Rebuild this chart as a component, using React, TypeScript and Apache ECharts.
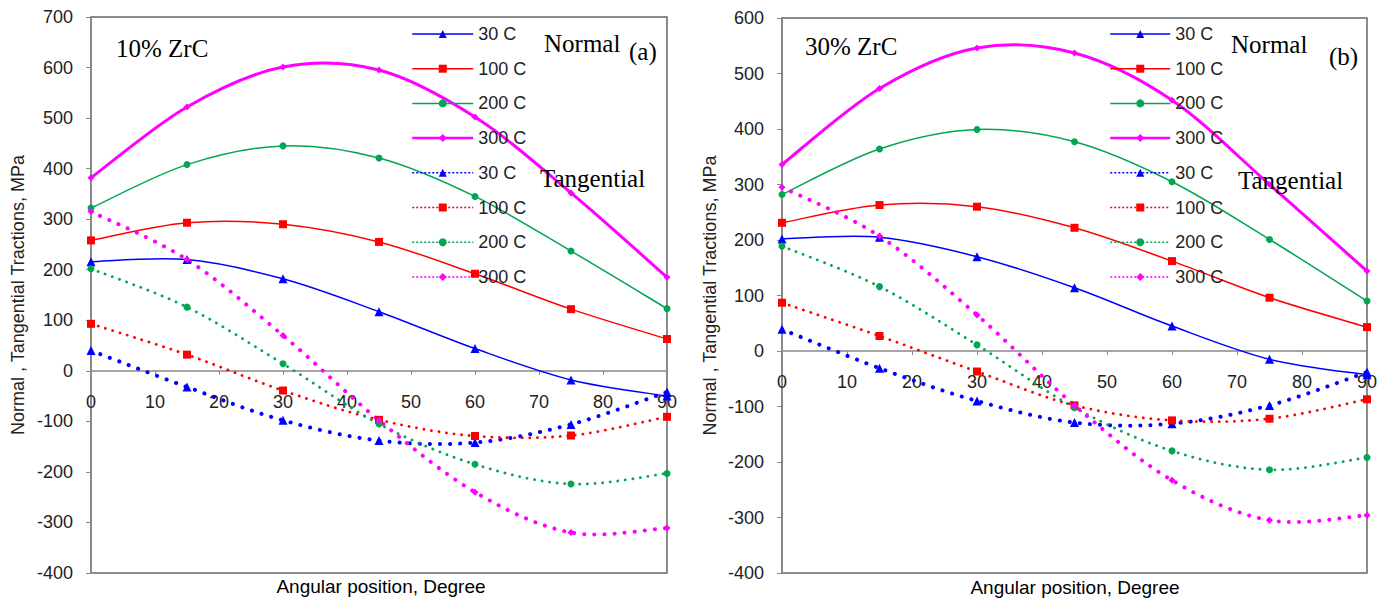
import React, { useEffect, useRef } from 'react';
import * as echarts from 'echarts';

// Angular positions (degrees)
const angles = [0, 15, 30, 45, 60, 75, 90];
const temps = ['30 C', '100 C', '200 C', '300 C'];
const xTicksMin = 0;
const xTicksMax = 90;

// (a) 10% ZrC
const aNormal30 = [216, 220, 182, 117, 44, -18, -50];
const aNormal100 = [258, 293, 290, 255, 192, 122, 63];
const aNormal200 = [322, 408, 445, 421, 345, 237, 123];
const aNormal300 = [382, 522, 601, 595, 502, 352, 185];
const aTang30 = [40, -32, -98, -138, -142, -106, -42];
const aTang100 = [93, 32, -39, -97, -129, -128, -91];
const aTang200 = [202, 126, 14, -105, -185, -224, -203];
const aTang300 = [315, 220, 70, -98, -240, -320, -311];

// (b) 30% ZrC
const bNormal30 = [202, 205, 170, 114, 45, -15, -43];
const bNormal100 = [231, 263, 260, 222, 162, 96, 43];
const bNormal200 = [282, 364, 399, 377, 305, 201, 90];
const bNormal300 = [336, 473, 546, 537, 452, 300, 144];
const bTang30 = [39, -31, -90, -129, -131, -98, -38];
const bTang100 = [87, 27, -37, -98, -125, -122, -87];
const bTang200 = [189, 116, 11, -102, -180, -214, -192];
const bTang300 = [295, 207, 65, -98, -233, -305, -296];

const aYRange = [-400, 700];
const bYRange = [-400, 600];

const colors = ['#0000FF', '#FF0000', '#00A651', '#FF00FF'];
const symbols = ['triangle', 'rect', 'circle', 'diamond'];
const symbolSizes = [9, 8, 7, 7];

const SANS = 'Liberation Sans, Arial, sans-serif';
const SERIF = 'Liberation Serif, Times New Roman, serif';

const GRIDS = [
  { left: 91, top: 17, width: 576, height: 556 },
  { left: 782, top: 18, width: 585, height: 555 },
];

function lineLook(kind: string, idx: number) {
  const thick = idx === 0 || idx === 3;
  if (kind === 'Normal') return { width: idx === 3 ? 3 : 1.5, dash: null as any, cap: 'butt' };
  return { width: thick ? 4 : 2.8, dash: [0.1, thick ? 10 : 7.5], cap: 'round' };
}

// Marker series (the library's line series, line hidden; curve drawn by curveSeries)
function markerSeries(p: number, panel: string, kind: string, idx: number, values: number[]) {
  const color = colors[idx];
  return {
    name: `${panel} ${kind}|${temps[idx]}`,
    type: 'line',
    xAxisIndex: p,
    yAxisIndex: p,
    data: angles.map((a, i) => [a, values[i]]),
    symbol: symbols[idx],
    symbolSize: symbolSizes[idx],
    showSymbol: true,
    itemStyle: { color },
    lineStyle: { color, width: 0, opacity: 0 },
    z: 4,
  };
}

// Smoothed curve through the data points (Excel-like cardinal spline)
function curveSeries(p: number, kind: string, idx: number, values: number[]) {
  const color = colors[idx];
  const look = lineLook(kind, idx);
  return {
    type: 'custom',
    xAxisIndex: p,
    yAxisIndex: p,
    data: angles.map((a, i) => [a, values[i]]),
    clip: true,
    silent: true,
    z: kind === 'Normal' ? 2 : 3,
    renderItem: (params: any, api: any) => {
      if (params.dataIndex !== 0) return null;
      const pts = angles.map((a, i) => api.coord([a, values[i]]));
      const n = pts.length;
      let d = `M${pts[0][0]},${pts[0][1]}`;
      for (let i = 0; i < n - 1; i++) {
        const p0 = pts[Math.max(i - 1, 0)];
        const p1 = pts[i];
        const p2 = pts[i + 1];
        const p3 = pts[Math.min(i + 2, n - 1)];
        const c1x = p1[0] + (p2[0] - p0[0]) / 6;
        const c1y = p1[1] + (p2[1] - p0[1]) / 6;
        const c2x = p2[0] - (p3[0] - p1[0]) / 6;
        const c2y = p2[1] - (p3[1] - p1[1]) / 6;
        d += ` C${c1x},${c1y} ${c2x},${c2y} ${p2[0]},${p2[1]}`;
      }
      return {
        type: 'path',
        shape: { pathData: d },
        style: {
          fill: 'none',
          stroke: color,
          lineWidth: look.width,
          lineDash: look.dash,
          lineCap: look.cap,
          lineJoin: 'round',
        },
      };
    },
  };
}

function legendFor(panel: string, left: number, width: number) {
  const data: any[] = [];
  ['Normal', 'Tangential'].forEach((kind) => {
    temps.forEach((t, idx) => {
      data.push({
        name: `${panel} ${kind}|${t}`,
        lineStyle:
          kind === 'Normal'
            ? { color: colors[idx], width: idx === 3 ? 2.5 : 1.5, type: 'solid', opacity: 1 }
            : { color: colors[idx], width: 1.5, type: [2, 2], cap: 'butt', opacity: 1 },
      });
    });
  });
  return {
    left,
    top: 25,
    orient: 'vertical',
    padding: 0,
    itemWidth: width,
    itemHeight: 10,
    itemGap: 16.7,
    selectedMode: false,
    data,
    formatter: (n: string) => n.split('|')[1],
    textStyle: { fontFamily: SANS, fontSize: 18, color: '#222', lineHeight: 18 },
  };
}

function xAxisFor(p: number, range: number[]) {
  const zeroOffset = -((0 - range[0]) / (range[1] - range[0])) * GRIDS[p].height;
  return {
    type: 'value',
    gridIndex: p,
    position: 'bottom',
    offset: zeroOffset,
    min: xTicksMin,
    max: xTicksMax,
    interval: 10,
    axisLine: { onZero: false, lineStyle: { color: '#888', width: 1.5 } },
    axisTick: { show: true, inside: false, length: 4, lineStyle: { color: '#888' } },
    axisLabel: { margin: 22, fontFamily: SANS, fontSize: 18, color: '#222' },
    splitLine: { show: false },
  };
}

function yAxisFor(p: number, range: number[], gap: number) {
  return {
    type: 'value',
    gridIndex: p,
    min: range[0],
    max: range[1],
    interval: 100,
    name: 'Normal , Tangential Tractions, MPa',
    nameLocation: 'middle',
    nameGap: gap,
    nameTextStyle: { fontFamily: SANS, fontSize: 18, color: '#222' },
    axisLine: { show: true, onZero: false, lineStyle: { color: '#888', width: 1.5 } },
    axisTick: { show: true, inside: false, length: 5, lineStyle: { color: '#888' } },
    axisLabel: { margin: 18, fontFamily: SANS, fontSize: 18, color: '#222' },
    splitLine: { show: false },
  };
}

function txt(x: number, y: number, text: string, font: string, align = 'left') {
  return {
    type: 'text',
    x,
    y,
    z: 10,
    style: {
      text,
      font,
      fill: '#000',
      align,
      verticalAlign: 'middle',
      textAlign: align,
      textVerticalAlign: 'middle',
    },
  };
}

export default function App() {
  const ref = useRef<HTMLDivElement>(null);
  useEffect(() => {
    document.body.style.margin = '0';
    if (!ref.current) return;
    const chart = echarts.init(ref.current, undefined, { renderer: 'svg' });
    const defs: [number, string, string, number, number[]][] = [
      [0, 'a', 'Normal', 0, aNormal30],
      [0, 'a', 'Normal', 1, aNormal100],
      [0, 'a', 'Normal', 2, aNormal200],
      [0, 'a', 'Normal', 3, aNormal300],
      [0, 'a', 'Tangential', 0, aTang30],
      [0, 'a', 'Tangential', 1, aTang100],
      [0, 'a', 'Tangential', 2, aTang200],
      [0, 'a', 'Tangential', 3, aTang300],
      [1, 'b', 'Normal', 0, bNormal30],
      [1, 'b', 'Normal', 1, bNormal100],
      [1, 'b', 'Normal', 2, bNormal200],
      [1, 'b', 'Normal', 3, bNormal300],
      [1, 'b', 'Tangential', 0, bTang30],
      [1, 'b', 'Tangential', 1, bTang100],
      [1, 'b', 'Tangential', 2, bTang200],
      [1, 'b', 'Tangential', 3, bTang300],
    ];
    const series: any[] = [];
    defs.forEach(([p, panel, kind, idx, vals]) => series.push(curveSeries(p, kind, idx, vals)));
    defs.forEach(([p, panel, kind, idx, vals]) => series.push(markerSeries(p, panel, kind, idx, vals)));
    chart.setOption({
      animation: false,
      backgroundColor: '#fff',
      grid: GRIDS.map((g) => ({
        ...g,
        show: true,
        borderColor: '#666',
        borderWidth: 1.5,
        containLabel: false,
        outerBoundsMode: 'none',
      })),
      xAxis: [xAxisFor(0, aYRange), xAxisFor(1, bYRange)],
      yAxis: [yAxisFor(0, aYRange, 64), yAxisFor(1, bYRange, 63)],
      legend: [legendFor('a', 411, 61), legendFor('b', 1109, 60)],
      series,
      graphic: [
        txt(116, 48, '10% ZrC', `25px ${SERIF}`),
        txt(544, 43, 'Normal', `25px ${SERIF}`),
        txt(629, 51, '(a)', `25px ${SERIF}`),
        txt(540, 178, 'Tangential', `25px ${SERIF}`),
        txt(805, 46, '30% ZrC', `25px ${SERIF}`),
        txt(1231, 44, 'Normal', `25px ${SERIF}`),
        txt(1329, 56, '(b)', `25px ${SERIF}`),
        txt(1238, 180, 'Tangential', `25px ${SERIF}`),
        txt(381, 586, 'Angular position, Degree', `19px ${SANS}`, 'center'),
        txt(1075, 587, 'Angular position, Degree', `19px ${SANS}`, 'center'),
      ],
    });
    return () => chart.dispose();
  }, []);
  return <div ref={ref} style={{ width: 1377, height: 599 }} />;
}
